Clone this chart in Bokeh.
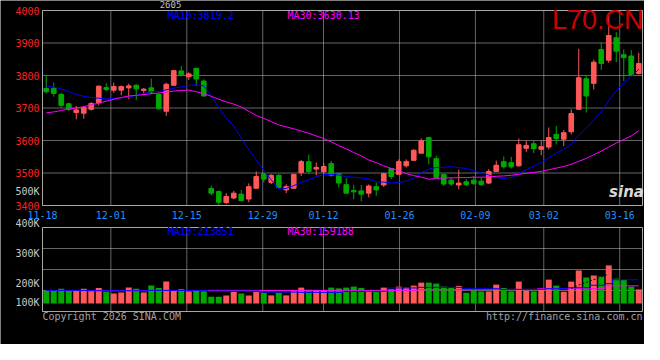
from bokeh.plotting import figure
from bokeh.models import Range1d, ColumnDataSource
from bokeh.core.properties import value
from bokeh.embed import file_html
from bokeh.resources import INLINE

# ---------------- data ----------------
dates = ["11-18", "11-19", "11-20", "11-21", "11-24", "11-25", "11-26", "11-27", "11-28",
         "12-01", "12-02", "12-03", "12-04", "12-05", "12-08", "12-09", "12-10", "12-11", "12-12",
         "12-15", "12-16", "12-17", "12-18", "12-19", "12-22", "12-23", "12-24", "12-25", "12-26",
         "12-29", "12-30", "12-31",
         "01-05", "01-06", "01-07", "01-08", "01-09", "01-12", "01-13", "01-14", "01-15", "01-16",
         "01-19", "01-20", "01-21", "01-22", "01-23", "01-26", "01-27", "01-28", "01-29", "01-30",
         "02-02", "02-03", "02-04", "02-05", "02-06", "02-09", "02-10", "02-11", "02-12", "02-13",
         "02-24", "02-25", "02-26", "02-27",
         "03-02", "03-03", "03-04", "03-05", "03-06", "03-09", "03-10", "03-11", "03-12", "03-13",
         "03-16", "03-17", "03-18", "03-19"]

opens = [3760, 3761, 3742, 3713, 3686, 3684, 3696, 3716, 3763, 3755,
         3755, 3762, 3770, 3754, 3762, 3742, 3690, 3770, 3814, 3796,
         3822, 3783, 3452, 3443, 3409, 3423, 3435, 3420, 3453, 3498,
         3471, 3493, 3448, 3453, 3501, 3535, 3512, 3504, 3529, 3498,
         3464, 3446, 3445, 3438, 3458, 3463, 3514, 3496, 3522, 3539,
         3561, 3609, 3544, 3496, 3478, 3463, 3473, 3478, 3475, 3469,
         3505, 3535, 3532, 3522, 3576, 3590, 3573, 3580, 3619, 3604,
         3627, 3696, 3790, 3776, 3880, 3847, 3916, 3864, 3860, 3806]
highs = [3802, 3778, 3747, 3716, 3706, 3706, 3718, 3770, 3776, 3778,
         3769, 3775, 3773, 3762, 3790, 3747, 3778, 3816, 3829, 3810,
         3822, 3788, 3461, 3446, 3438, 3445, 3448, 3468, 3505, 3498,
         3496, 3496, 3465, 3496, 3540, 3557, 3532, 3530, 3537, 3498,
         3485, 3463, 3463, 3465, 3471, 3501, 3514, 3542, 3542, 3573,
         3606, 3612, 3553, 3496, 3486, 3510, 3481, 3491, 3486, 3512,
         3538, 3551, 3550, 3606, 3599, 3599, 3600, 3640, 3645, 3632,
         3696, 3882, 3800, 3849, 3903, 3985, 3933, 3880, 3878, 3870]
lows = [3745, 3735, 3701, 3691, 3665, 3667, 3692, 3708, 3752, 3747,
        3739, 3727, 3725, 3739, 3742, 3694, 3676, 3768, 3798, 3786,
        3767, 3735, 3432, 3401, 3404, 3420, 3413, 3410, 3453, 3471,
        3466, 3453, 3438, 3453, 3491, 3497, 3493, 3496, 3489, 3455,
        3437, 3419, 3413, 3425, 3430, 3457, 3481, 3496, 3517, 3539,
        3561, 3527, 3486, 3460, 3460, 3450, 3460, 3463, 3460, 3466,
        3505, 3514, 3514, 3520, 3565, 3561, 3555, 3573, 3588, 3583,
        3619, 3696, 3686, 3757, 3817, 3839, 3841, 3783, 3798, 3803]
closes = [3750, 3745, 3708, 3696, 3694, 3701, 3714, 3767, 3757, 3766,
          3766, 3768, 3759, 3758, 3749, 3698, 3773, 3815, 3802, 3805,
          3789, 3737, 3438, 3410, 3428, 3438, 3415, 3458, 3489, 3481,
          3493, 3455, 3458, 3496, 3535, 3505, 3517, 3520, 3493, 3469,
          3438, 3442, 3435, 3460, 3448, 3498, 3489, 3535, 3535, 3570,
          3599, 3550, 3486, 3466, 3466, 3469, 3464, 3468, 3465, 3505,
          3524, 3519, 3519, 3587, 3585, 3575, 3581, 3609, 3606, 3624,
          3683, 3793, 3737, 3841, 3837, 3923, 3875, 3855, 3803, 3837]

ma10 = [3766.5, 3764.4, 3759, 3750, 3742, 3736, 3732, 3730, 3728, 3729.8,
        3731.4, 3733.7, 3738.8, 3745.0, 3750.5, 3750.2, 3756.1, 3760.9, 3765.4, 3769.3,
        3771.6, 3768.5, 3736.4, 3701.6, 3669.5, 3643.5, 3607.7, 3572.0, 3540.7, 3508.3,
        3478.7, 3450.5, 3452.5, 3461.1, 3471.8, 3478.5, 3488.7, 3494.9, 3495.3, 3494.1,
        3488.6, 3487.3, 3485.0, 3481.4, 3472.7, 3472.0, 3469.2, 3470.7, 3474.9, 3485.0,
        3501.1, 3511.9, 3517.0, 3517.6, 3519.4, 3516.5, 3514.0, 3507.3, 3500.3, 3493.8,
        3486.3, 3483.2, 3486.5, 3498.6, 3510.5, 3521.1, 3532.8, 3546.9, 3561.0, 3572.9,
        3588.8, 3616.2, 3638.0, 3663.4, 3688.6, 3723.4, 3752.8, 3777.4, 3797.1, 3819.2]
ma30 = [3685, 3688, 3692, 3697, 3700, 3704, 3710, 3715, 3721, 3727,
        3732, 3737, 3739, 3741, 3744, 3746, 3749, 3752, 3754, 3755,
        3750, 3744, 3736, 3727, 3719, 3712, 3703, 3690, 3677, 3668,
        3658, 3648, 3642, 3636, 3629, 3622, 3614, 3606, 3596, 3584,
        3574, 3563, 3553, 3540, 3532, 3522, 3514, 3508, 3498, 3492,
        3487, 3481, 3483, 3485, 3485, 3486, 3486, 3487, 3487, 3488,
        3490, 3491, 3493, 3496, 3499, 3502, 3505, 3510, 3515, 3520,
        3527, 3536, 3545, 3556, 3567, 3580, 3592, 3603, 3614, 3630.13]

volumes = [118, 118, 133, 112, 118, 133, 112, 140, 106, 91,
           100, 143, 133, 100, 161, 140, 197, 121, 130, 109,
           121, 109, 61, 61, 73, 103, 91, 73, 103, 97,
           73, 97, 73, 115, 143, 124, 115, 121, 143, 136,
           143, 152, 140, 115, 118, 143, 130, 152, 143, 161,
           188, 188, 179, 152, 143, 158, 97, 121, 109, 109,
           170, 140, 109, 197, 115, 109, 127, 215, 161, 106,
           197, 297, 234, 252, 243, 343, 224, 212, 152, 127]  # thousands
vol_ma10 = [118] * 6 + [115] * 8 + [118] * 8 + [112] * 7 + [103] * 5 + [100] * 6 + [109] * 6 + \
           [140] * 4 + [145] * 6 + [133] * 5 + [127] * 6 + [133] * 3 + [142] * 3 + [164] * 2 + [179] + [213.851] * 4
vol_ma30 = [115] * 22 + [118] * 28 + [124] * 9 + [127] * 7 + [133] * 9 + [159.188] * 5
vol_ma5_tail = [135, 165, 190, 215, 240, 265]  # visible MA5 run, days 03-06 .. 03-13

price_ticks = [3400, 3500, 3600, 3700, 3800, 3900, 4000]
tick_dates = ["11-18", "12-01", "12-15", "12-29", "01-12", "01-26", "02-09", "03-02", "03-16"]
vol_tick_labels = ["500K", "400K", "300K", "200K", "100K"]
title_text = "L70.CN"
ma_price_texts = ["MA10:3819.2", "MA30:3630.13"]
ma_vol_texts = ["MA10:213851", "MA30:159188"]
footer_texts = ["Copyright 2026 SINA.COM", "http://finance.sina.com.cn"]

# ---------------- geometry / styling ----------------
W, H = 644, 344
SLOT = 7.5                      # pixels per trading day
LEFT = 42                       # left edge of the panels (px)
P_TOP, P_H = 10, 195            # price panel top and height (px)
V_TOP, V_H = 227, 84            # volume panel top and height (px)
V_PX = 9000.0                   # volume units per pixel
V_ZERO = 76                     # px from volume-panel top down to zero volume
PMIN, PMAX = 3400, 4000
P_PX = (PMAX - PMIN) / P_H

RED, GREEN = "#ff5858", "#00a800"
BLUE, MAG = "#0000ff", "#ff00ff"
MONO = "DejaVu Sans Mono"
GRID_C = "#c8c8c8"
FRAME_C = "#a8a8a8"


def xpx(cx):          # canvas px -> x data
    return (cx - LEFT) / SLOT


def ppx(cy):          # canvas px -> price data
    return PMAX - (cy - P_TOP) * P_PX


def vpx(cy):          # canvas px -> volume data
    return (V_TOP + V_ZERO - cy) * V_PX


N = len(dates)
xs = [i + 0.5 for i in range(N)]
colors = [RED if c >= o else GREEN for o, c in zip(opens, closes)]
src = ColumnDataSource(dict(
    x=xs, o=opens, h=highs, l=lows, c=closes,
    top=[max(o, c) for o, c in zip(opens, closes)],
    bot=[min(o, c) for o, c in zip(opens, closes)],
    color=colors, ma10=ma10, ma30=ma30,
    vol=[v * 1000 for v in volumes],
    vma10=[v * 1000 for v in vol_ma10],
    vma30=[v * 1000 for v in vol_ma30],
))
grid_pos = [dates.index(d) * N / (N - 1) for d in tick_dates]

p = figure(width=W, height=H, output_backend="svg", toolbar_location=None,
           x_range=Range1d(xpx(0), xpx(W)), y_range=Range1d(ppx(H), ppx(0)),
           x_axis_location=None, y_axis_location=None, min_border=0,
           background_fill_color="black", border_fill_color="black", outline_line_color=None)
p.extra_y_ranges = {"vol": Range1d(vpx(H), vpx(0))}
p.xgrid.visible = False
p.ygrid.visible = False

VMIN, VMAX = vpx(V_TOP + V_H), vpx(V_TOP)
vgrid = [VMIN + k * (VMAX - VMIN) / 4 for k in (1, 2, 3)]

# grids (dotted)
p.segment(x0=[0] * 5, x1=[N] * 5, y0=price_ticks[1:-1], y1=price_ticks[1:-1],
          color=GRID_C, line_width=1, line_dash="1 1")
p.segment(x0=grid_pos, x1=grid_pos, y0=[PMIN] * len(grid_pos), y1=[PMAX] * len(grid_pos),
          color=GRID_C, line_width=1, line_dash="1 1")
p.segment(x0=grid_pos, x1=grid_pos, y0=[VMIN] * len(grid_pos), y1=[VMAX] * len(grid_pos),
          color=GRID_C, line_width=1, line_dash="1 1", y_range_name="vol")
p.segment(x0=[0] * 3, x1=[N] * 3, y0=vgrid, y1=vgrid,
          color=GRID_C, line_width=1, line_dash="1 1", y_range_name="vol")

# candles
p.segment(x0="x", y0="l", x1="x", y1="h", color="color", line_width=1, source=src)
p.vbar(x="x", width=0.62, top="top", bottom="bot", fill_color="color",
       line_color="color", line_width=1, source=src)
p.line("x", "ma10", color=BLUE, line_width=1, source=src)
p.line("x", "ma30", color=MAG, line_width=1, source=src)

# volume
p.vbar(x="x", width=0.8, top="vol", bottom=0, fill_color="color", line_color=None,
       source=src, y_range_name="vol")
p.step("x", "vma30", mode="center", color=MAG, line_width=1, source=src, y_range_name="vol")
p.step("x", "vma10", mode="center", color=BLUE, line_width=1, source=src, y_range_name="vol")
p.line(x=xs[N - 10:N - 4], y=[v * 1000 for v in vol_ma5_tail], color="black",
       line_width=1, line_dash="2 2", y_range_name="vol")

# panel frames
p.quad(left=[0], right=[N], bottom=[PMIN], top=[PMAX], fill_color=None,
       line_color=FRAME_C, line_width=1)
p.quad(left=[0], right=[N], bottom=[VMIN], top=[VMAX], fill_color=None,
       line_color=FRAME_C, line_width=1, y_range_name="vol")

# texts
txt = dict(text_font=value(MONO), text_font_size=value("10px"), text_baseline="middle")
p.text(x=[xpx(39)] * len(price_ticks), y=price_ticks, text=[str(t) for t in price_ticks],
       text_color="#ff2020", text_align="right", **txt)
p.text(x=grid_pos, y=[ppx(214)] * len(grid_pos), text=tick_dates,
       text_color="#1e90ff", text_align="center", **txt)
p.text(x=[xpx(39)], y=[ppx(191)], text=vol_tick_labels[:1],
       text_color="#c8c8c8", text_align="right", **txt)
p.text(x=[xpx(39)] * 4, y=[vpx(c) for c in (223, 253, 283, 302)], text=vol_tick_labels[1:],
       text_color="#c8c8c8", text_align="right", y_range_name="vol", **txt)
p.text(x=[xpx(167), xpx(287)], y=[ppx(15)] * 2, text=ma_price_texts,
       text_color=[BLUE, MAG], text_align="left", **txt)
p.text(x=[xpx(167), xpx(287)], y=[vpx(230.5)] * 2, text=ma_vol_texts,
       text_color=[BLUE, MAG], text_align="left", y_range_name="vol", **txt)
p.text(x=[0], y=[vpx(316)], text=footer_texts[:1], text_color="#a0a0a0",
       text_align="left", y_range_name="vol", **txt)
p.text(x=[N], y=[vpx(316)], text=footer_texts[1:], text_color="#a0a0a0",
       text_align="right", y_range_name="vol", **txt)
p.text(x=[xpx(643)], y=[ppx(19.5)], text=[title_text], text_color="#d00000",
       text_font=value("Liberation Sans"), text_font_size=value("27px"),
       text_align="right", text_baseline="alphabetic")
p.text(x=[xpx(170)], y=[ppx(3.5)], text=["2605"], text_color="#c0c0c0",
       text_font=value(MONO), text_font_size=value("9px"), text_align="center",
       text_baseline="middle")
p.text(x=[xpx(626)], y=[ppx(191)], text=["sina"], text_color="#d8d8d8",
       text_font=value("DejaVu Sans"), text_font_size=value("15px"),
       text_font_style="bold italic", text_align="center", text_baseline="middle")

open("out.html", "w").write(file_html(p, INLINE))
